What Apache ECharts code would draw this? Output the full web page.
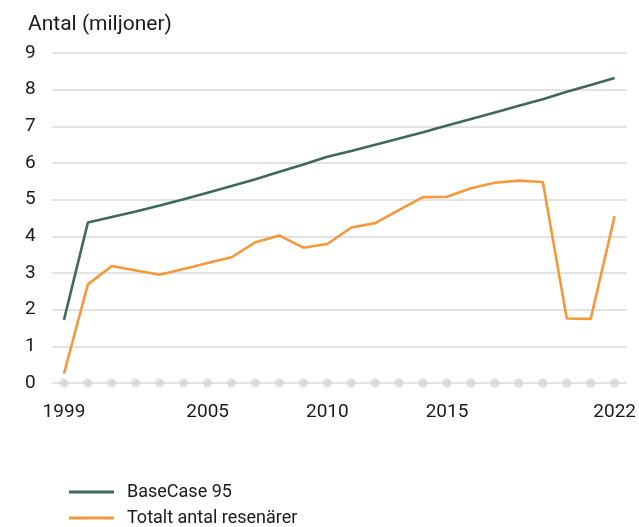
<!DOCTYPE html>
<html>
<head>
<meta charset="utf-8">
<script src="https://cdn.jsdelivr.net/npm/echarts@6/dist/echarts.min.js"></script>
<style>
  html, body { margin: 0; padding: 0; background: #fff; }
  #chart { width: 639px; height: 527px; }
</style>
</head>
<body>
<div id="chart"></div>
<script>
'use strict';

var years = ['1999', '2000', '2001', '2002', '2003', '2004', '2005', '2006', '2007', '2008', '2009', '2010',
  '2011', '2012', '2013', '2014', '2015', '2016', '2017', '2018', '2019', '2020', '2021', '2022'];
var shownYears = ['1999', '2005', '2010', '2015', '2022'];
var baseCase = [1.72, 4.38, 4.53, 4.68, 4.84, 5.01, 5.19, 5.37, 5.56, 5.76, 5.96, 6.17,
  6.33, 6.5, 6.67, 6.84, 7.02, 7.2, 7.38, 7.56, 7.74, 7.94, 8.13, 8.32];
var totalt = [0.26, 2.69, 3.19, 3.07, 2.95, 3.11, 3.27, 3.43, 3.84, 4.02, 3.69, 3.79,
  4.24, 4.36, 4.72, 5.07, 5.08, 5.31, 5.46, 5.52, 5.48, 1.76, 1.75, 4.55];

var font = 'Roboto';
var chart = echarts.init(document.getElementById('chart'));

var option = {
  backgroundColor: '#fff',
  animation: false,
  title: {
    text: 'Antal (miljoner)',
    left: 23,
    top: 9,
    textStyle: { fontFamily: font, fontSize: 21, fontWeight: 'normal', color: '#1a1a1a' }
  },
  grid: { left: 52, right: 12, top: 53, bottom: 144 },
  legend: {
    orient: 'vertical',
    left: 64,
    top: 478,
    height: 60,
    itemWidth: 45,
    itemHeight: 3,
    itemGap: 8,
    icon: 'rect',
    textStyle: { fontFamily: font, fontSize: 18, color: '#1a1a1a', padding: [0, 0, 0, 8] },
    data: ['BaseCase 95', 'Totalt antal resenärer']
  },
  xAxis: {
    type: 'category',
    data: years,
    boundaryGap: true,
    axisLine: { show: false },
    axisTick: { show: false },
    axisLabel: {
      interval: 0,
      margin: 20,
      fontFamily: font,
      fontSize: 19,
      color: '#1a1a1a',
      formatter: function (v) { return shownYears.indexOf(v) >= 0 ? v : ''; }
    }
  },
  yAxis: {
    type: 'value',
    min: 0,
    max: 9,
    interval: 1,
    axisLine: { show: false },
    axisTick: { show: false },
    splitLine: { lineStyle: { color: '#dadada', width: 1.5 } },
    axisLabel: {
      margin: 27,
      align: 'left',
      fontFamily: font,
      fontSize: 19,
      color: '#1a1a1a',
      padding: [0, 0, 5, 0]
    }
  },
  series: [
    {
      type: 'scatter',
      data: years.map(function () { return 0; }),
      symbol: 'circle',
      symbolSize: 9,
      itemStyle: { color: '#d4d4d4' },
      silent: true,
      z: 1
    },
    {
      name: 'BaseCase 95',
      type: 'line',
      data: baseCase,
      showSymbol: false,
      lineStyle: { color: '#3e6a57', width: 2.6 },
      itemStyle: { color: '#3e6a57' },
      z: 3
    },
    {
      name: 'Totalt antal resenärer',
      type: 'line',
      data: totalt,
      showSymbol: false,
      lineStyle: { color: '#f5983a', width: 2.6 },
      itemStyle: { color: '#f5983a' },
      z: 3
    }
  ]
};

chart.setOption(option);
</script>
</body>
</html>
